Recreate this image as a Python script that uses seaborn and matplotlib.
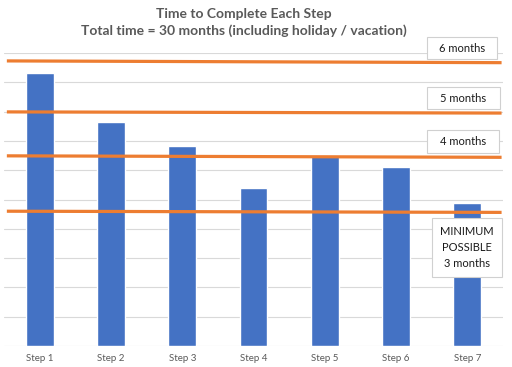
import pandas as pd
import numpy as np
import matplotlib
matplotlib.use("Agg")
import matplotlib.pyplot as plt
import matplotlib.patches as mpatches
import seaborn as sns

# ---- Data ----
steps = ["Step 1", "Step 2", "Step 3", "Step 4", "Step 5", "Step 6", "Step 7"]
durations = [9.32, 7.64, 6.83, 5.39, 6.52, 6.11, 4.88]

# orange reference lines (slightly slanted, left / right level)
ref_labels = ["6 months", "5 months", "4 months", "MINIMUM\nPOSSIBLE\n3 months"]
ref_left = [9.73, 7.99, 6.49, 4.60]
ref_right = [9.67, 7.95, 6.44, 4.56]

sns.set_theme(style="white")
plt.rcParams['font.family'] = ['Lato', 'DejaVu Sans']

df = pd.DataFrame({"step": steps, "duration": durations})

W, H = 512, 367
fig = plt.figure(figsize=(W / 100, H / 100), dpi=100)
ax = fig.add_axes([4 / W, 21 / H, 499 / W, 293 / H])

sns.barplot(data=df, x="step", y="duration", color="#4472C4", saturation=1,
            width=0.39, ax=ax, zorder=2)

ax.set_ylim(0, 10)
ax.set_xlim(-0.5, len(steps) - 0.5)
ax.set_yticks(np.arange(0, 11, 1))
ax.set_yticklabels([])
ax.tick_params(axis='y', length=0)
ax.tick_params(axis='x', length=0, labelsize=7, colors="#595959", pad=6)
ax.grid(axis='y', color="#d9d9d9", linewidth=0.8, zorder=0)
ax.set_axisbelow(True)
for s in ax.spines.values():
    s.set_visible(False)
ax.set_xlabel("")
ax.set_ylabel("")

# orange lines
for yl, yr in zip(ref_left, ref_right):
    ax.plot([-0.46, 6.48], [yl, yr], color="#ED7D31", linewidth=2.3,
            solid_capstyle='butt', zorder=3)

# labels in boxes (pixel boxes: x0, y0, x1, y1 from top-left)
boxes = [(427, 37, 497, 59), (427, 87, 500, 109), (427, 130, 499, 153), (432, 218, 502, 277)]
for lab, (x0, y0, x1, y1) in zip(ref_labels, boxes):
    rect = mpatches.Rectangle((x0 / W, 1 - y1 / H), (x1 - x0) / W, (y1 - y0) / H,
                              transform=fig.transFigure, facecolor="white",
                              edgecolor="#d0d0d0", linewidth=0.8, zorder=5)
    fig.add_artist(rect)
    fig.text((x0 + x1) / 2 / W, 1 - (y0 + y1) / 2 / H, lab, ha='center', va='center',
             fontsize=8, color="#1a1a1a", linespacing=1.55, zorder=6)

fig.text(244 / W, 1 - 14 / H, "Time to Complete Each Step",
         ha='center', va='center', fontsize=10, fontweight='bold', color="#595959")
fig.text(244 / W, 1 - 31 / H, "Total time = 30 months (including holiday / vacation)",
         ha='center', va='center', fontsize=10, fontweight='bold', color="#595959")

fig.savefig("out.png", dpi=100)
